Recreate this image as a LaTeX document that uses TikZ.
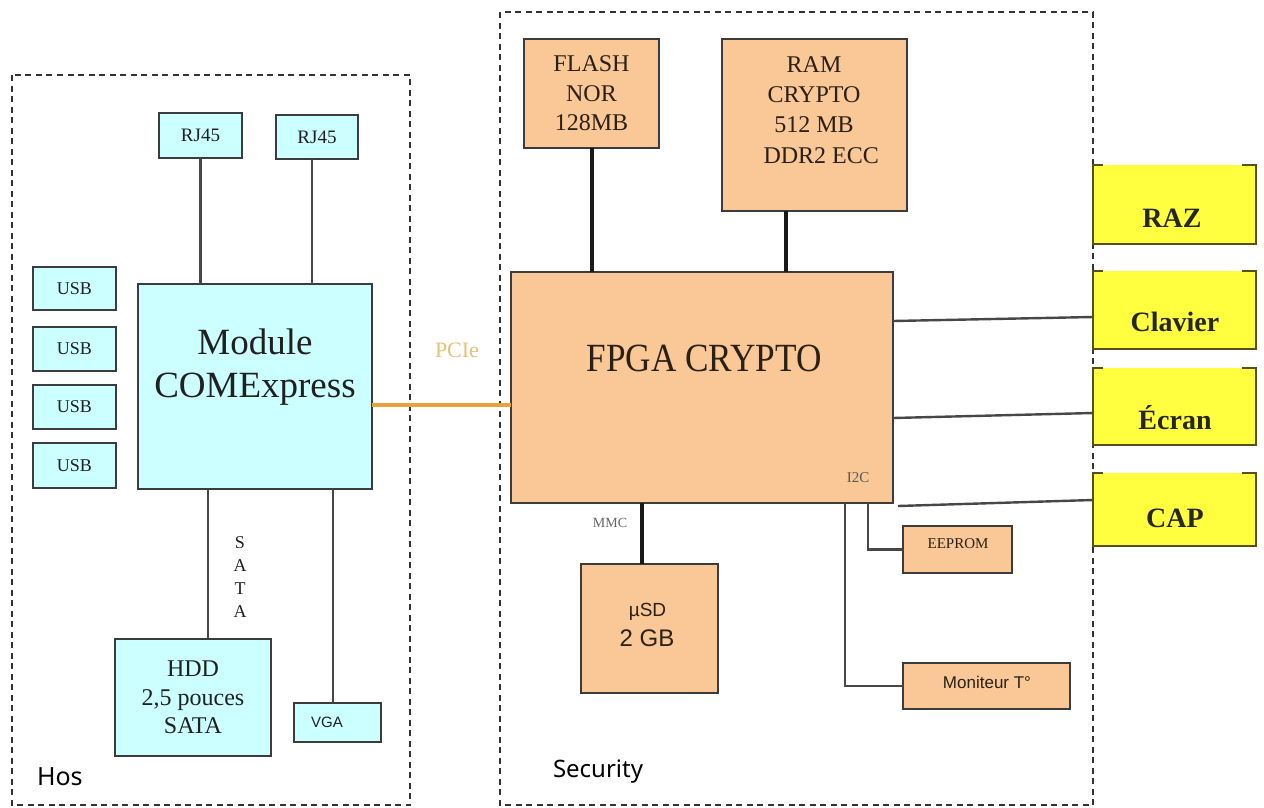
\documentclass[tikz,border=0pt]{standalone}
\usepackage{fontspec}
\setmainfont{Liberation Serif}
\newfontfamily\arialf{Liberation Sans}
\newfontfamily\uifont{Noto Sans}
\usetikzlibrary{calc}
\definecolor{cyanfill}{HTML}{CCFFFF}
\definecolor{peach}{HTML}{FAC796}
\definecolor{boxline}{HTML}{3C3C3C}
\definecolor{yel}{HTML}{FFFF40}
\definecolor{yelline}{HTML}{55501E}
\definecolor{pcieC}{HTML}{E9A23B}
\definecolor{pcietext}{HTML}{E5C27C}
\definecolor{txt}{HTML}{202020}
\definecolor{brtxt}{HTML}{2A2016}
\definecolor{dashc}{HTML}{333333}
\definecolor{wirec}{HTML}{474747}
\begin{document}
\begin{tikzpicture}[x=1pt,y=-1pt,
  every node/.style={inner sep=0pt, outer sep=0pt, text=txt},
  sz/.style 2 args={minimum width=#1pt, minimum height=#2pt},
  hostbox/.style={draw=boxline, fill=cyanfill, line width=2.2pt, rectangle},
  secbox/.style={draw=boxline, fill=peach, line width=2.2pt, rectangle, text=brtxt},
  yelbox/.style={fill=yel, rectangle},
  yelborder/.style={draw=yelline, line width=2.4pt},
  yeltext/.style={font=\bfseries\fontsize{28}{30}\selectfont, text=black!85},
  zone/.style={draw=dashc, line width=1.6pt, dash pattern=on 6pt off 4.5pt},
  wire/.style={draw=wirec, line width=2.4pt},
  busline/.style={draw=black!90, line width=4pt},
  pcieline/.style={draw=pcieC, line width=4.5pt},
  uitext/.style={font=\uifont\fontsize{24}{28}\selectfont, text=black}
]
\useasboundingbox (0,0) rectangle (1264,807);
\fill[white] (0,0) rectangle (1264,807);

% zones
\draw[zone] (12,75) rectangle (410,805);
\draw[zone] (500,12) rectangle (1093,805);

% helper coordinates
\coordinate (rj2X) at (312,0);
\coordinate (sataX) at (208,0);
\coordinate (vgaX) at (333,0);
\coordinate (pcieY) at (0,405);
\coordinate (ramX) at (786,0);
\coordinate (mmcX) at (642,0);
\coordinate (i2cA) at (868,0);
\coordinate (i2cB) at (845,0);
\coordinate (clavA) at (0,321);
\coordinate (clavB) at (0,317);
\coordinate (ecrA) at (0,418);
\coordinate (ecrB) at (0,413);
\coordinate (capA) at (0,506);
\coordinate (capB) at (0,500);

% host side boxes
\node[hostbox, sz={83}{45}, font=\fontsize{19}{21}\selectfont] (rj1) at (200.5,135.5) {RJ45};
\node[hostbox, sz={82}{44}, font=\fontsize{19}{21}\selectfont] (rj2) at (317,137) {RJ45};
\node[hostbox, sz={83}{43}, font=\fontsize{18}{20}\selectfont] (usb1) at (74.5,288.5) {USB};
\node[hostbox, sz={83}{44}, font=\fontsize{18}{20}\selectfont] (usb2) at (74.5,349) {USB};
\node[hostbox, sz={83}{44}, font=\fontsize{18}{20}\selectfont] (usb3) at (74.5,407) {USB};
\node[hostbox, sz={83}{45}, font=\fontsize{18}{20}\selectfont] (usb4) at (74.5,465.5) {USB};
\node[hostbox, sz={234}{205}] (module) at (255,386.5) {};
\node[font=\fontsize{37}{43}\selectfont, align=center] (moduleT) at (255,367) {Module\\COMExpress};
\node[hostbox, sz={156}{117}, font=\fontsize{24}{28.5}\selectfont, align=center] (hdd) at (193,697.5) {HDD\\2,5 pouces\\SATA};
\node[hostbox, sz={87}{39}] (vga) at (337.5,722.5) {};
\node[font=\arialf\fontsize{15}{17}\selectfont] (vgaT) at (327,722) {VGA};
\node[font=\fontsize{18}{23.3}\selectfont, align=center] (sata) at (240,577) {S\\A\\T\\A};

% host connectors
\draw[wire] (rj1.south) -- (rj1.south |- module.north);
\draw[wire] (rj2.south -| rj2X) -- (module.north -| rj2X);
\draw[wire] (module.south -| sataX) -- (hdd.north -| sataX);
\draw[wire] (module.south -| vgaX) -- (vga.north -| vgaX);

% security side boxes
\node[secbox, sz={135}{109}, font=\fontsize{24}{29.5}\selectfont, align=center] (flash) at (591.5,93.5) {FLASH\\NOR\\128MB};
\node[secbox, sz={185}{172}] (ram) at (814.5,125) {};
\node[font=\fontsize{24}{30.3}\selectfont, align=center, text=brtxt] (ramT) at (814,110) {RAM\\CRYPTO\\512 MB\\\hspace*{0.6em}DDR2 ECC};
\node[secbox, sz={382}{231}] (fpga) at (702,387.5) {};
\node[font=\fontsize{40}{42}\selectfont, text=brtxt] (fpgaT) at (704,358) {\scalebox{0.88}[1]{FPGA CRYPTO}};
\node[font=\fontsize{15}{17}\selectfont, text=black!65] (i2cT) at (858,478) {I2C};
\node[secbox, sz={137}{129}] (usd) at (649.5,628.5) {};
\node[font=\arialf\fontsize{19}{21}\selectfont, text=brtxt] (usdA) at (647.5,612) {µSD};
\node[font=\arialf\fontsize{24}{26}\selectfont, text=brtxt] (usdB) at (647,638) {2 GB};
\node[font=\fontsize{14}{16}\selectfont, text=black!60] (mmcT) at (610,523) {MMC};
\node[secbox, sz={109}{47}] (eeprom) at (957.5,549.5) {};
\node[font=\fontsize{15}{17}\selectfont, text=brtxt] (eepromT) at (958,544) {EEPROM};
\node[secbox, sz={167}{46}] (monit) at (986.5,686) {};
\node[font=\arialf\fontsize{17}{19}\selectfont, text=brtxt] (monitT) at (987,682) {Moniteur T°};

% security connectors
\draw[busline] (flash.south) -- (flash.south |- fpga.north);
\draw[busline] (ram.south -| ramX) -- (fpga.north -| ramX);
\draw[busline] (fpga.south -| mmcX) -- (usd.north -| mmcX);
\draw[wire] (fpga.south -| i2cA) |- (eeprom.west);
\draw[wire] (fpga.south -| i2cB) |- (monit.west);

% PCIe
\draw[pcieline] (module.east |- pcieY) -- (fpga.west |- pcieY);
\node[font=\fontsize{22}{24}\selectfont, text=pcietext] (pcieT) at (457,350) {PCIe};

% yellow boxes
\node[yelbox, sz={163}{79}] (raz) at (1174.5,204.5) {};
\node[yelbox, sz={163}{78}] (clav) at (1174.5,310) {};
\node[yelbox, sz={163}{77}] (ecran) at (1174.5,406.5) {};
\node[yelbox, sz={163}{73}] (cap) at (1174.5,509.5) {};
\foreach \b in {raz,clav,ecran,cap}{
  \draw[yelborder] ([xshift=10pt]\b.north west) -- (\b.north west) -- (\b.south west)
    -- (\b.south east) -- (\b.north east) -- ([xshift=-14pt]\b.north east);
}
\node[yeltext] (razT) at (1172,218) {RAZ};
\node[yeltext] (clavT) at (1175,322) {Clavier};
\node[yeltext] (ecranT) at (1175,418) {Écran};
\node[yeltext] (capT) at (1175,518) {CAP};

% connectors to yellow boxes
\draw[wire] (fpga.east |- clavA) -- (clav.west |- clavB);
\draw[wire] (fpga.east |- ecrA) -- (ecran.west |- ecrB);
\draw[wire] ([xshift=5pt]fpga.east |- capA) -- (cap.west |- capB);

% zone labels
\node[uitext, font=\uifont\fontsize{25}{28}\selectfont, anchor=base west] (hosT) at (37,785) {Hos};
\node[uitext, anchor=base west] (secT) at (553,777) {Security};
\end{tikzpicture}
\end{document}
